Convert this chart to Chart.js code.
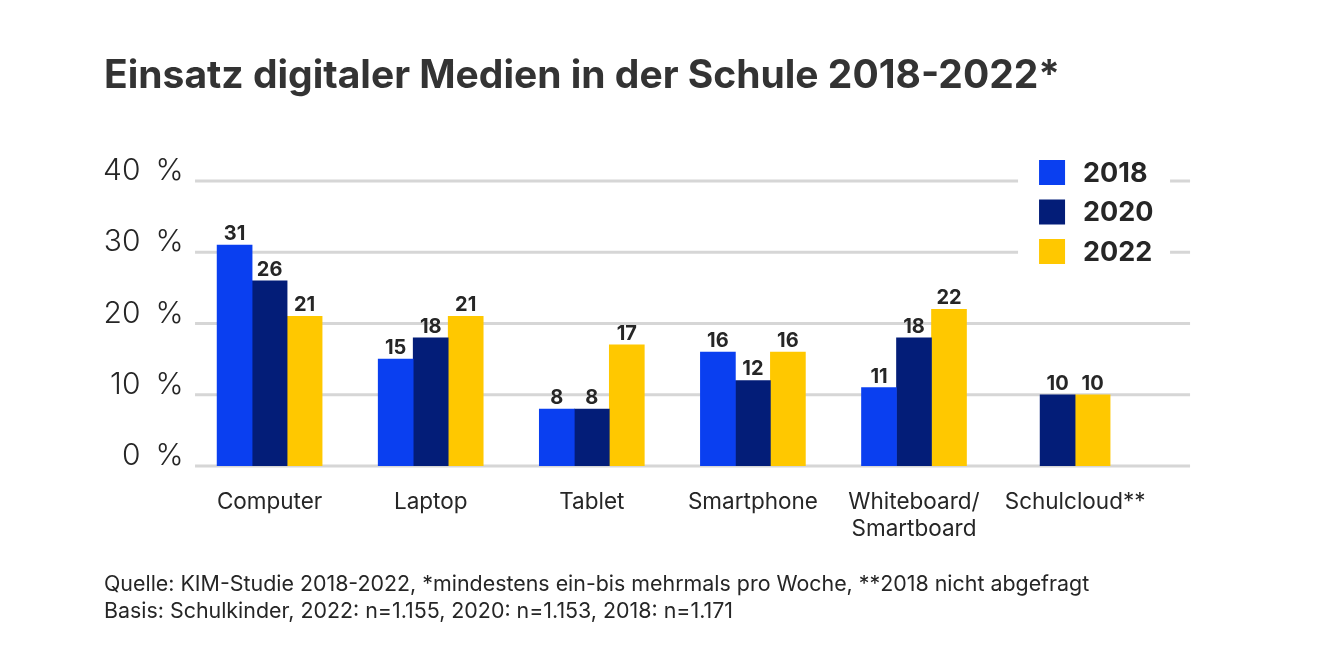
<!DOCTYPE html>
<html>
<head>
<meta charset="utf-8">
<script src="https://cdn.jsdelivr.net/npm/chart.js@4.4.0/dist/chart.umd.min.js"></script>
<style>
html, body { margin: 0; padding: 0; background: #fff; }
#wrap { width: 1320px; height: 668px; }
</style>
</head>
<body>
<div id="wrap"><canvas id="mediaChart" width="1320" height="668"></canvas></div>
<script>
// Daten
const categories = ['Computer', 'Laptop', 'Tablet', 'Smartphone', ['Whiteboard/', 'Smartboard'], 'Schulcloud**'];
const years = ['2018', '2020', '2022'];
const values2018 = [31, 15, 8, 16, 11, null]; // 2018 Schulcloud nicht abgefragt
const values2020 = [26, 18, 8, 12, 18, 10];
const values2022 = [21, 21, 17, 16, 22, 10];
const yTicks = [0, 10, 20, 30, 40];
const colors = ['#0a3ff0', '#031d78', '#ffc800'];
const footerLines = [
    'Quelle: KIM-Studie 2018-2022, *mindestens ein-bis mehrmals pro Woche, **2018 nicht abgefragt',
    'Basis: Schulkinder, 2022: n=1.155, 2020: n=1.153, 2018: n=1.171'
];

const textColor = '#262626';
const fontFamily = 'Inter, "Noto Sans", sans-serif';

// Gitterlinien (über die Zeichenfläche hinaus)
const gridPlugin = {
    id: 'gridLines',
    beforeDatasetsDraw(chart) {
        const { ctx, chartArea, scales: { y } } = chart;
        ctx.save();
        ctx.strokeStyle = '#d6d6d6';
        ctx.lineWidth = 3;
        y.ticks.forEach(t => {
            const py = y.getPixelForValue(t.value);
            ctx.beginPath();
            ctx.moveTo(chartArea.left + 6, py);
            ctx.lineTo(chartArea.right + 34.4, py);
            ctx.stroke();
        });
        ctx.restore();
    }
};

// Legende oben rechts im Diagramm
const legendPlugin = {
    id: 'boxLegend',
    afterDatasetsDraw(chart) {
        const { ctx, chartArea } = chart;
        const gridRight = chartArea.right + 34.4;
        const left = gridRight - 151;
        const top = chartArea.top - 21;
        ctx.save();
        ctx.fillStyle = '#fff';
        ctx.fillRect(gridRight - 172, top - 10, 152, 120);
        ctx.font = `700 27px ${fontFamily}`;
        ctx.textBaseline = 'middle';
        ctx.textAlign = 'left';
        chart.data.datasets.forEach((ds, i) => {
            const by = top + i * 39.5;
            ctx.fillStyle = ds.backgroundColor;
            ctx.fillRect(left, by, 26, 25);
            ctx.fillStyle = textColor;
            ctx.fillText(ds.label, left + 44, by + 13.5);
        });
        ctx.restore();
    }
};

// Werte über den Balken
const valueLabels = {
    id: 'valueLabels',
    afterDatasetsDraw(chart) {
        const { ctx } = chart;
        ctx.save();
        ctx.font = `700 20px ${fontFamily}`;
        ctx.fillStyle = textColor;
        ctx.textAlign = 'center';
        ctx.textBaseline = 'alphabetic';
        chart.data.datasets.forEach((ds, i) => {
            chart.getDatasetMeta(i).data.forEach((bar, j) => {
                const v = ds.data[j];
                if (v === null) return;
                ctx.fillText(v, bar.x, bar.y - 5);
            });
        });
        ctx.restore();
    }
};

const ctx = document.getElementById('mediaChart').getContext('2d');
const mediaChart = new Chart(ctx, {
    type: 'bar',
    data: {
        labels: categories,
        datasets: years.map((yr, i) => ({
            label: yr,
            data: [values2018, values2020, values2022][i],
            backgroundColor: colors[i],
            borderWidth: 0,
            barThickness: 35
        }))
    },
    options: {
        responsive: false,
        animation: false,
        devicePixelRatio: 1,
        skipNull: true,
        layout: { padding: { left: 104, right: 164.35, top: 0, bottom: 43 } },
        plugins: {
            legend: { display: false },
            tooltip: { enabled: false },
            title: {
                display: true,
                text: 'Einsatz digitaler Medien in der Schule 2018-2022*',
                align: 'start',
                color: '#333',
                font: { family: fontFamily, size: 39, weight: '700', lineHeight: 1.2 },
                padding: { top: 52.8, bottom: 81.4 }
            },
            subtitle: {
                display: true,
                position: 'bottom',
                align: 'start',
                text: footerLines,
                color: textColor,
                font: { family: fontFamily, size: 21.4, weight: '400', lineHeight: 1.248 },
                padding: { top: 0, bottom: 0 }
            }
        },
        scales: {
            x: {
                grid: { display: false, drawTicks: false },
                border: { display: false },
                ticks: {
                    color: textColor,
                    font: { family: fontFamily, size: 22.5, lineHeight: 1.2 },
                    padding: 23,
                    maxRotation: 0,
                    autoSkip: false
                },
                afterFit(s) { s.height = 105.6; }
            },
            y: {
                min: 0,
                max: 40,
                grid: { display: false, drawTicks: false },
                border: { display: false },
                afterBuildTicks(s) { s.ticks = yTicks.map(v => ({ value: v })); },
                ticks: {
                    padding: 5.5,
                    labelOffset: -10,
                    color: textColor,
                    font: { family: fontFamily, size: 30, weight: '300' },
                    callback: v => v + '\u2002%'
                },
                afterFit(s) { s.width = 85.05; }
            }
        }
    },
    plugins: [gridPlugin, legendPlugin, valueLabels]
});
</script>
</body>
</html>
